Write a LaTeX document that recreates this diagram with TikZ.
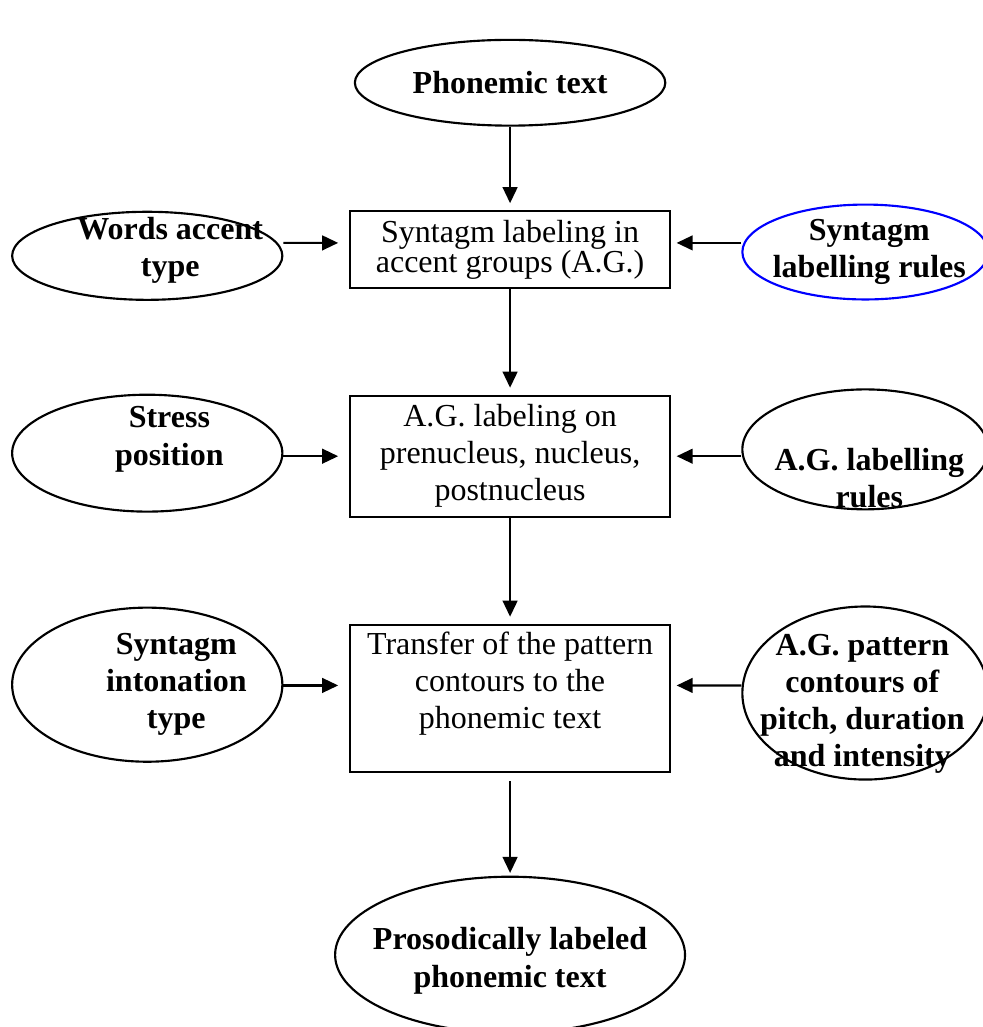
\documentclass[tikz,border=0pt]{standalone}
\usepackage{fontspec}
\setmainfont{Liberation Serif}
\usetikzlibrary{shapes.geometric,arrows.meta}

\begin{document}
\begin{tikzpicture}[>={Triangle[length=6pt,width=5.5pt]},line width=0.8pt,
    oval/.style={ellipse,draw,inner sep=0pt},
    box/.style={rectangle,draw,minimum width=4.22cm,align=center,font=\fontsize{12}{13.9}\selectfont},
    txt/.style={align=center,font=\fontsize{12}{13.9}\selectfont\bfseries}]
      \useasboundingbox (-6.72,1.09) rectangle (6.23,-12.44);

      \node[oval,minimum width=4.09cm,minimum height=1.13cm,font=\fontsize{12}{13.9}\selectfont\bfseries] (1) {Phonemic text};
      \node[box,below of=1,yshift=-1.2cm,minimum height=0.98cm,font=\fontsize{12}{11.3}\selectfont] (2) {Syntagm labeling in\\accent groups (A.G.)};
      \node[box,below of=2,yshift=-1.72cm,minimum height=1.46cm] (3) {A.G. labeling on\\prenucleus, nucleus,\\postnucleus};
      \node[box,below of=3,yshift=-2.19cm,minimum height=1.94cm,
        label={[align=center,font=\fontsize{12}{13.9}\selectfont,yshift=5.6pt]center:{Transfer of the pattern\\contours to the\\phonemic text}}] (4) {};
      \node[oval,below of=4,yshift=-2.38cm,minimum width=4.61cm,minimum height=2.06cm,
        label={[txt,yshift=-2.2pt]center:{Prosodically labeled\\phonemic text}}] (5) {};

      \node[oval,left of=2,xshift=-3.78cm,yshift=-0.08cm,minimum width=3.56cm,minimum height=1.16cm,
        label={[txt,xshift=8.6pt,yshift=1.9pt]center:{Words accent\\type}}] (6) {};
      \node[oval,right of=2,xshift=3.68cm,yshift=-0.03cm,minimum width=3.24cm,minimum height=1.25cm,draw=blue,
        label={[txt,xshift=1.5pt]center:{Syntagm\\labelling rules}}] (7) {};
      \node[oval,left of=3,xshift=-3.78cm,yshift=0.04cm,minimum width=3.56cm,minimum height=1.54cm,
        label={[txt,xshift=8.3pt,yshift=5.2pt]center:{Stress\\position}}] (8) {};
      \node[oval,right of=3,xshift=3.68cm,yshift=0.09cm,minimum width=3.24cm,minimum height=1.58cm,
        label={[txt,xshift=1.5pt,yshift=-10.9pt]center:{A.G. labelling\\rules}}] (9) {};
      \node[oval,left of=4,xshift=-3.78cm,yshift=0.18cm,minimum width=3.56cm,minimum height=2.03cm,
        label={[txt,xshift=10.9pt]center:{Syntagm\\intonation\\type}}] (10) {};
      \node[oval,right of=4,xshift=3.68cm,yshift=0.07cm,minimum width=3.24cm,minimum height=2.28cm,
        label={[txt,xshift=-1.1pt,yshift=-4.1pt]center:{A.G. pattern\\contours of\\pitch, duration\\and intensity}}] (11) {};

      \draw[->,shorten >=2.6pt] (1) -- (2);
      \draw[->,shorten >=2.6pt] (2) -- (3);
      \draw[->,shorten >=2.6pt] (3) -- (4);
      \draw[->,shorten <=3pt,shorten >=1pt] (4) -- (5);

      \draw[->,shorten >=4pt] ([yshift=0.17cm]6.east) -- ([yshift=0.09cm]2.west);
      \draw[->,shorten >=2pt] ([yshift=0.12cm]7.west) -- ([yshift=0.09cm]2.east);
      \draw[->,shorten >=4pt] ([yshift=-0.04cm]8.east) -- (3.west);
      \draw[->,shorten >=2pt] ([yshift=-0.09cm]9.west) -- (3.east);
      \draw[->,shorten >=4pt] ([yshift=-0.01cm]10.east) -- ([yshift=0.17cm]4.west);
      \draw[->,shorten >=2pt] ([yshift=0.10cm]11.west) -- ([yshift=0.17cm]4.east);
    \end{tikzpicture}
\end{document}
